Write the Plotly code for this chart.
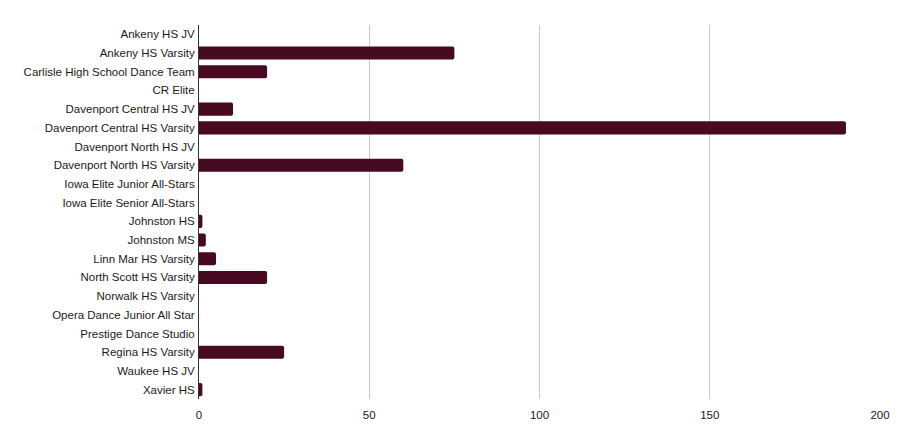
import plotly.graph_objects as go

teams = ["Ankeny HS JV", "Ankeny HS Varsity", "Carlisle High School Dance Team", "CR Elite",
         "Davenport Central HS JV", "Davenport Central HS Varsity", "Davenport North HS JV",
         "Davenport North HS Varsity", "Iowa Elite Junior All-Stars", "Iowa Elite Senior All-Stars",
         "Johnston HS", "Johnston MS", "Linn Mar HS Varsity", "North Scott HS Varsity",
         "Norwalk HS Varsity", "Opera Dance Junior All Star", "Prestige Dance Studio",
         "Regina HS Varsity", "Waukee HS JV", "Xavier HS"]
counts = [0, 75, 20, 0, 10, 190, 0, 60, 0, 0, 1, 2, 5, 20, 0, 0, 0, 25, 0, 1]
x_ticks = [0, 50, 100, 150, 200]

bar_color = "#470a20"

fig = go.Figure()
fig.add_trace(go.Bar(x=counts, y=teams, orientation="h", width=0.7,
                     marker=dict(color=bar_color, line=dict(width=0), cornerradius=2)))

# page body has an 8px margin, so the figure is a bit smaller than the window
fig.update_layout(
    width=886, height=428,
    margin=dict(l=191, r=14, t=17, b=37),
    paper_bgcolor="white", plot_bgcolor="white",
    font=dict(family="Liberation Sans, Arial, sans-serif", size=11.5, color="#1a1a1a"),
    showlegend=False,
)
fig.update_xaxes(range=[0, 200], tickvals=x_ticks, showgrid=True, gridcolor="#c8c8c8", gridwidth=1,
                 zeroline=False, showline=False, ticks="", ticklabelstandoff=7, automargin=False)
fig.update_yaxes(autorange="reversed", showgrid=False, zeroline=False, showline=True,
                 linecolor="#333333", linewidth=1, ticks="", ticklabelstandoff=1, automargin=False)

fig.write_html("out.html")
